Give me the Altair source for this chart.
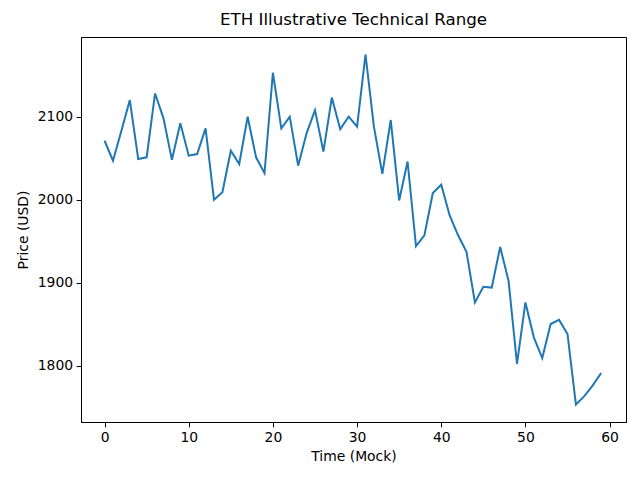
import altair as alt
import pandas as pd

time_idx = list(range(60))
prices = [2071, 2047, 2083, 2120, 2049, 2051, 2128, 2098, 2048, 2092,
          2053, 2055, 2086, 2000, 2009, 2059, 2043, 2100, 2051, 2032,
          2153, 2086, 2100, 2041, 2080, 2108, 2058, 2123, 2085, 2100,
          2088, 2175, 2088, 2031, 2096, 1999, 2046, 1944, 1957, 2008,
          2018, 1981, 1957, 1937, 1876, 1895, 1894, 1943, 1902, 1802,
          1876, 1834, 1809, 1850, 1855, 1838, 1753, 1763, 1776, 1791]
x_ticks = [0, 10, 20, 30, 40, 50, 60]
y_ticks = [1800, 1900, 2000, 2100]

df = pd.DataFrame({"t": time_idx, "price": prices})

ymin, ymax = min(prices), max(prices)
m = (ymax - ymin) * 0.05
xm = (time_idx[-1] - time_idx[0]) * 0.05

font = "DejaVu Sans"
axis_common = dict(
    domainColor="black", tickColor="black", labelColor="black", titleColor="black",
    tickSize=4.86, labelPadding=3.5, labelFontSize=13.9, titleFontSize=13.9,
    labelFont=font, titleFont=font, titleFontWeight="normal", grid=False,
    domainWidth=1, tickWidth=1,
)

chart = alt.Chart(df).mark_line(color="#1f77b4", strokeWidth=2.0).encode(
    x=alt.X("t:Q", title="Time (Mock)",
            scale=alt.Scale(domain=[time_idx[0] - 2.8, time_idx[-1] + xm], nice=False, zero=False),
            axis=alt.Axis(values=x_ticks, format="d", titlePadding=5, **axis_common)),
    y=alt.Y("price:Q", title="Price (USD)",
            scale=alt.Scale(domain=[ymin - m, ymax + m], nice=False, zero=False),
            axis=alt.Axis(values=y_ticks, format="d", titlePadding=7, **axis_common)),
).properties(
    width=545, height=385,
    title=alt.TitleParams("ETH Illustrative Technical Range", font=font, fontSize=16.7,
                          fontWeight="normal", color="black", offset=8, anchor="middle"),
    autosize=alt.AutoSizeParams(type="none"),
    padding={"left": 73, "top": 29, "right": 6, "bottom": 50},
    background="white",
).configure_view(stroke="black", strokeWidth=1)

chart.save("out.html", embed_options={"renderer": "svg", "actions": False})
